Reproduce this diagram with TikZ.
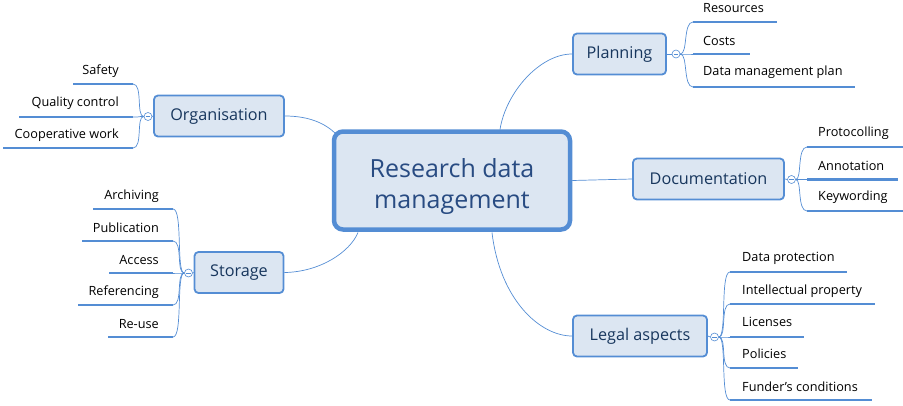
\documentclass[tikz,border=0pt]{standalone}
\usepackage{fontspec}
\setmainfont{Open Sans}
\usetikzlibrary{positioning}

\definecolor{mapblue}{RGB}{84,141,212}
\definecolor{mapfill}{RGB}{220,230,242}
\definecolor{maptext}{RGB}{23,54,93}
\definecolor{roottext}{RGB}{40,75,130}

\begin{document}
\begin{tikzpicture}[x=1pt,y=-1pt,
  root/.style={draw=mapblue, line width=4.5pt, fill=mapfill, rounded corners=9pt,
    minimum width=236pt, minimum height=98pt, align=center,
    font=\fontsize{25}{31}\selectfont, text=roottext},
  topic/.style={draw=mapblue, line width=1.8pt, fill=mapfill, rounded corners=4pt,
    minimum height=41pt, font=\fontsize{16.2}{18}\selectfont, text=maptext},
  leaf/.style={font=\fontsize{12.7}{14}\selectfont, inner sep=0pt},
  underline/.style={draw=mapblue, line width=2.6pt},
  link/.style={draw=mapblue, line width=0.7pt},
  fold/.style={circle, draw=mapblue, fill=white, line width=0.6pt, inner sep=0pt,
    minimum size=8pt,
    path picture={\draw[mapblue, line width=0.5pt]
      ([xshift=-2.3pt]path picture bounding box.center) --
      ([xshift=2.3pt]path picture bounding box.center);}}]

\useasboundingbox (0,0) rectangle (903,405);

% Centre topic
\node[root] (rdm) at (452,180.5) {\rule{0pt}{31pt}Research data\\management};

% Planning — top right
\node[topic, minimum width=93pt] (plan) at (619.5,54) {Planning};
\node[fold] (planF) at (676,54) {};
\draw[link] (plan.east) -- (planF.west);
\draw[link] (500,129.5) .. controls (506,92) and (540,54) .. (plan.west);
\coordinate (res) at (693,22);
\coordinate (cost) at (693,54);
\coordinate (dmp) at (693,87);
\draw[underline] (res) -- ++(84,0);
\draw[underline] (cost) -- ++(57,0);
\draw[underline] (dmp) -- ++(162,0);
\node[leaf, anchor=west] (resT) at (703,8) {Resources};
\node[leaf, anchor=west] (costT) at (703,41) {Costs};
\node[leaf, anchor=west] (dmpT) at (703,72) {Data management plan};
\foreach \n in {res,cost,dmp}
  \draw[link] (planF.east) .. controls (688,54) and (683,0|-\n) .. (\n);

% Organisation — top left
\node[topic, minimum width=130pt] (org) at (219,116) {Organisation};
\node[fold] (orgF) at (148,116.5) {};
\draw[link] (org.west) -- (orgF.east);
\draw[link] (org.east) .. controls (310,116) and (326,124) .. (336,134);
\coordinate (safe) at (133,84);
\coordinate (qual) at (133,117);
\coordinate (coop) at (133,148);
\draw[underline] (safe) -- ++(-60,0);
\draw[underline] (qual) -- ++(-114,0);
\draw[underline] (coop) -- ++(-130,0);
\node[leaf, anchor=east] (safeT) at (119,71) {Safety};
\node[leaf, anchor=east] (qualT) at (119,103) {Quality control};
\node[leaf, anchor=east] (coopT) at (119,135) {Cooperative work};
\foreach \n in {safe,qual,coop}
  \draw[link] (orgF.west) .. controls (136,116.5) and (143,0|-\n) .. (\n);

% Documentation — right
\node[topic, minimum width=151pt] (doc) at (708.5,179) {Documentation};
\node[fold] (docF) at (791.5,179.5) {};
\draw[link] (doc.east) -- (docF.west);
\draw[link] (rdm.east) -- (doc.west);
\coordinate (prot) at (807,147);
\coordinate (anno) at (807,179.5);
\coordinate (keyw) at (807,211);
\draw[underline] (prot) -- ++(96,0);
\draw[underline] (anno) -- ++(91,0);
\draw[underline] (keyw) -- ++(96,0);
\node[leaf, anchor=west] (protT) at (818,133) {Protocolling};
\node[leaf, anchor=west] (annoT) at (818,166) {Annotation};
\node[leaf, anchor=west] (keywT) at (818,197) {Keywording};
\foreach \n in {prot,anno,keyw}
  \draw[link] (docF.east) .. controls (802,179.5) and (797,0|-\n) .. (\n);

% Storage — bottom left
\node[topic, minimum width=89pt] (stor) at (239,272.5) {Storage};
\node[fold] (storF) at (188.5,273) {};
\draw[link] (stor.west) -- (storF.east);
\draw[link] (stor.east) .. controls (320,272) and (350,252) .. (358,232.5);
\coordinate (arch) at (173,209);
\coordinate (publ) at (173,241);
\coordinate (acc) at (173,273);
\coordinate (ref) at (173,305);
\coordinate (reuse) at (173,337);
\draw[underline] (arch) -- ++(-80,0);
\draw[underline] (publ) -- ++(-91,0);
\draw[underline] (acc) -- ++(-64,0);
\draw[underline] (ref) -- ++(-95,0);
\draw[underline] (reuse) -- ++(-65,0);
\node[leaf, anchor=east] (archT) at (159,196) {Archiving};
\node[leaf, anchor=east] (publT) at (159,228) {Publication};
\node[leaf, anchor=east] (accT) at (159,260) {Access};
\node[leaf, anchor=east] (refT) at (159,292) {Referencing};
\node[leaf, anchor=east] (reuseT) at (159,324) {Re-use};
\foreach \n in {arch,publ,acc,ref,reuse}
  \draw[link] (storF.west) .. controls (176,273) and (183,0|-\n) .. (\n);

% Legal aspects — bottom right
\node[topic, minimum width=134pt] (legal) at (640,336) {Legal aspects};
\node[fold] (legalF) at (714.5,337) {};
\draw[link] (legal.east) -- (legalF.west);
\draw[link] (492,232.5) .. controls (500,300) and (540,336) .. (legal.west);
\coordinate (prot2) at (730,272);
\coordinate (ip) at (730,304);
\coordinate (lic) at (730,337);
\coordinate (pol) at (730,368);
\coordinate (fund) at (730,400);
\draw[underline] (prot2) -- ++(117,0);
\draw[underline] (ip) -- ++(145,0);
\draw[underline] (lic) -- ++(74,0);
\draw[underline] (pol) -- ++(68,0);
\draw[underline] (fund) -- ++(142,0);
\node[leaf, anchor=west] (prot2T) at (742,258) {Data protection};
\node[leaf, anchor=west] (ipT) at (742,291) {Intellectual property};
\node[leaf, anchor=west] (licT) at (742,322) {Licenses};
\node[leaf, anchor=west] (polT) at (742,354) {Policies};
\node[leaf, anchor=west] (fundT) at (742,387) {Funder's conditions};
\foreach \n in {prot2,ip,lic,pol,fund}
  \draw[link] (legalF.east) .. controls (727,337) and (720,0|-\n) .. (\n);

\end{tikzpicture}
\end{document}
